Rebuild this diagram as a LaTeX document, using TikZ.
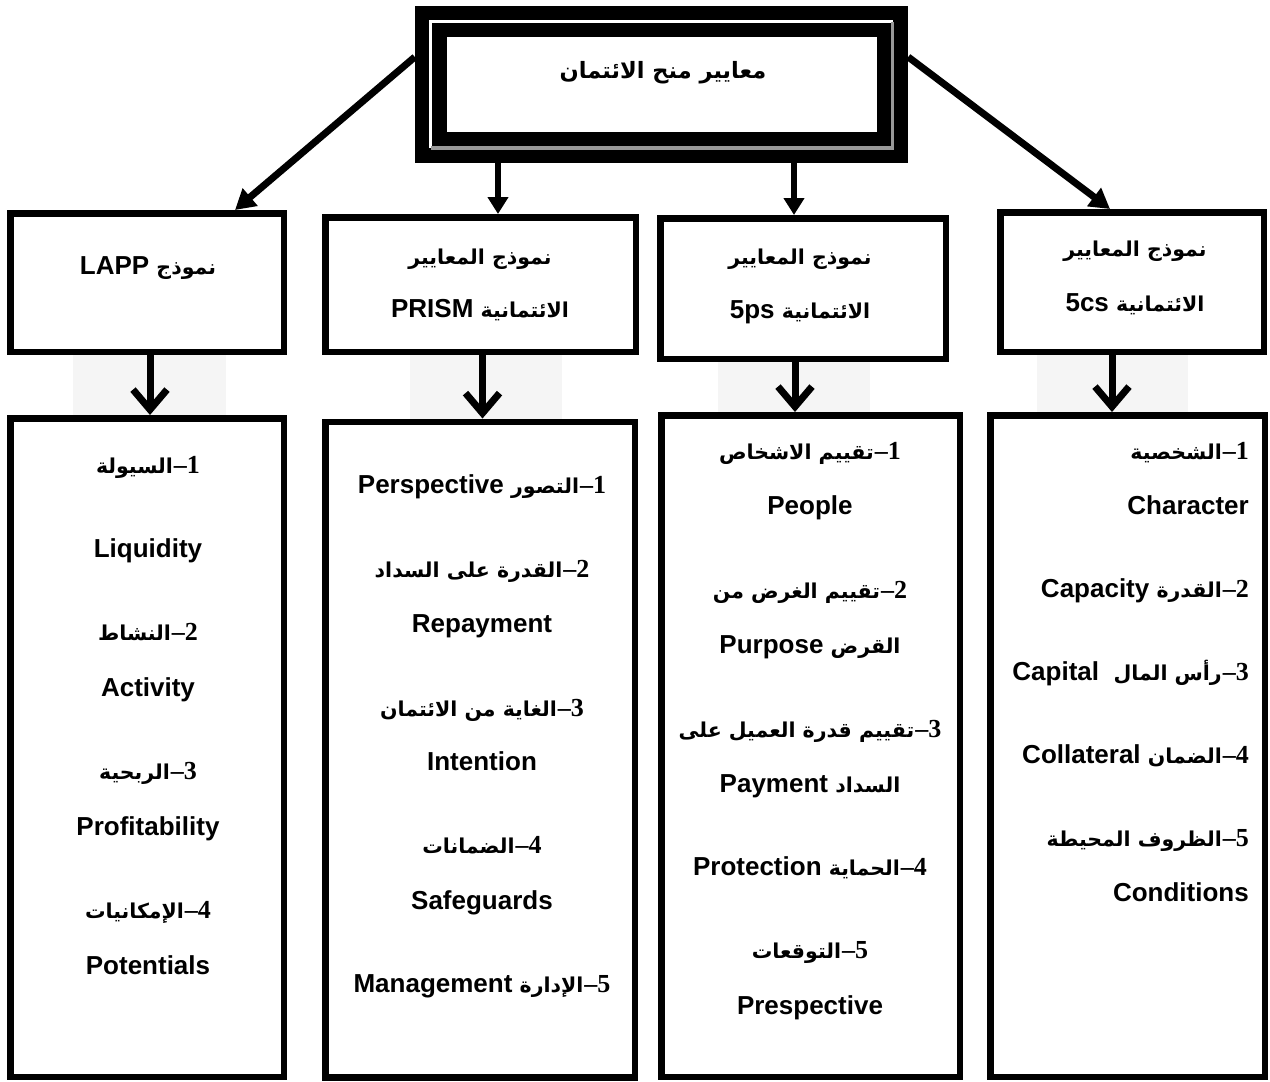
\documentclass[tikz,border=0pt]{standalone}
\usepackage{fontspec}
\setmainfont{Liberation Sans}
\newfontfamily\arabicfont[Script=Arabic]{DejaVu Sans}
\newfontfamily\digitfont{Liberation Serif}
\TeXXeTstate=1
\usetikzlibrary{arrows.meta}

% Arabic run, serif digits, right-to-left line, numbered entry
\newcommand\ARsized[2]{{\arabicfont\bfseries\fontsize{#1}{#1}\selectfont #2}}
\newcommand\AR[1]{\ARsized{20.5}{#1}}
\newcommand\DG[1]{{\digitfont\bfseries\fontsize{26}{30}\selectfont #1}}
\newcommand\RL[1]{\beginR #1\endR}
\newcommand\itm[2]{\RL{\DG{#1}\kern0pt\DG{–}\kern1pt #2}}

\tikzset{
  frame/.style={draw, line width=6.5pt, inner sep=0pt, fill=white},
  txt/.style={inner sep=0pt, text height=18pt, text depth=6pt,
              font=\bfseries\fontsize{26}{30}\selectfont},
  link/.style={line width=7pt, -{Triangle[length=20pt,width=22pt]}},
  drop/.style={line width=5.5pt, -{Triangle[length=17pt,width=20pt]}},
  down/.style={line width=7pt, -{Straight Barb[length=20pt,width=34pt]}},
  patch/.style={fill=black!4, draw=none},
}

\begin{document}
\begin{tikzpicture}[x=1pt, y=-1pt]
\useasboundingbox (0,0) rectangle (1270,1082);

% faint pasted backgrounds behind the short arrows
\fill[patch] (73,307) rectangle (226,420);
\fill[patch] (410,325) rectangle (562,420);
\fill[patch] (718,308) rectangle (870,418);
\fill[patch] (1037,307) rectangle (1188,418);

% title frame: heavy black border with a thin bevel line
\node[fill=black, draw=none, minimum width=493pt, minimum height=157pt, inner sep=0pt]
  (top) at (661.5,84.5) {};
\draw[white, line width=3.5pt] (430.5,148) -- (430.5,21.5) -- (892.5,21.5);
\draw[black!40, line width=3.5pt] (430.5,148) -- (892.5,148) -- (892.5,21.5);
\fill[white] (447,37) rectangle (877,132);
\node[txt] (title) at (663,72) {\RL{\ARsized{22.5}{معايير منح الائتمان}}};

% model boxes
\node[frame, minimum width=273.5pt, minimum height=138.5pt] (A) at (147,282.5) {};
\node[frame, minimum width=310.5pt, minimum height=134.5pt] (B) at (480.5,284.5) {};
\node[frame, minimum width=285.5pt, minimum height=140.5pt] (C) at (803,288.5) {};
\node[frame, minimum width=263.5pt, minimum height=139.5pt] (D) at (1132,282) {};

% criteria boxes
\node[frame, minimum width=273.5pt, minimum height=658.5pt] (A3) at (147,747.5) {};
\node[frame, minimum width=309.5pt, minimum height=655.5pt] (B3) at (480,749.5) {};
\node[frame, minimum width=298.5pt, minimum height=661.5pt] (C3) at (810.5,746) {};
\node[frame, minimum width=274.5pt, minimum height=661.5pt] (D3) at (1127.5,746) {};

% connectors from the title
\coordinate (aIn) at ([xshift=88pt]A.north);
\coordinate (bIn) at ([xshift=17.5pt]B.north);
\coordinate (cIn) at ([xshift=-9pt]C.north);
\coordinate (dIn) at ([xshift=-22pt]D.north);
\draw[link] ([yshift=27.5pt]top.west) -- (aIn);
\draw[link] ([yshift=27.5pt]top.east) -- (dIn);
\draw[drop] (top.south -| bIn) -- (bIn);
\draw[drop] (top.south -| cIn) -- (cIn);

% connectors from each model to its criteria
\coordinate (aOut) at ([xshift=3pt]A.south);
\coordinate (bOut) at ([xshift=2pt]B.south);
\coordinate (cOut) at ([xshift=-8pt]C.south);
\coordinate (dOut) at ([xshift=-20pt]D.south);
\draw[down] (aOut) -- (aOut |- A3.north);
\draw[down] (bOut) -- (bOut |- B3.north);
\draw[down] (cOut) -- (cOut |- C3.north);
\draw[down] (dOut) -- (dOut |- D3.north);

% model titles
\node[txt] (a1) at (148,268) {\RL{\AR{نموذج} LAPP}};
\node[txt] (b1) at (480,258) {\RL{\AR{نموذج المعايير}}};
\node[txt] (b2) at (480,311) {\RL{\AR{الائتمانية} PRISM}};
\node[txt] (c1) at (800,258) {\RL{\AR{نموذج المعايير}}};
\node[txt] (c2) at (800,312) {\RL{\AR{الائتمانية} 5ps}};
\node[txt] (d1) at (1135,250) {\RL{\AR{نموذج المعايير}}};
\node[txt] (d2) at (1135,305) {\RL{\AR{الائتمانية} 5cs}};

% LAPP
\node[txt] (la1) at (148,467) {\itm{1}{\AR{السيولة}}};
\node[txt] (la2) at (148,551) {Liquidity};
\node[txt] (la3) at (148,634) {\itm{2}{\AR{النشاط}}};
\node[txt] (la4) at (148,690) {Activity};
\node[txt] (la5) at (148,773) {\itm{3}{\AR{الربحية}}};
\node[txt] (la6) at (148,829) {Profitability};
\node[txt] (la7) at (148,912) {\itm{4}{\AR{الإمكانيات}}};
\node[txt] (la8) at (148,968) {Potentials};

% PRISM
\node[txt] (pr1) at (482,487) {\itm{1}{\AR{التصور} Perspective}};
\node[txt] (pr2) at (482,571) {\itm{2}{\AR{القدرة على السداد}}};
\node[txt] (pr3) at (482,626) {Repayment};
\node[txt] (pr4) at (482,710) {\itm{3}{\AR{الغاية من الائتمان}}};
\node[txt] (pr5) at (482,764) {Intention};
\node[txt] (pr6) at (482,847) {\itm{4}{\AR{الضمانات}}};
\node[txt] (pr7) at (482,903) {Safeguards};
\node[txt] (pr8) at (482,986) {\itm{5}{\AR{الإدارة} Management}};

% 5ps
\node[txt] (ps1) at (810,453) {\itm{1}{\AR{تقييم الاشخاص}}};
\node[txt] (ps2) at (810,508) {People};
\node[txt] (ps3) at (810,592) {\itm{2}{\AR{تقييم الغرض من}}};
\node[txt] (ps4) at (810,647) {\RL{\AR{القرض} Purpose}};
\node[txt] (ps5) at (810,731) {\itm{3}{\AR{تقييم قدرة العميل على}}};
\node[txt] (ps6) at (810,786) {\RL{\AR{السداد} Payment}};
\node[txt] (ps7) at (810,869) {\itm{4}{\AR{الحماية} Protection}};
\node[txt] (ps8) at (810,952) {\itm{5}{\AR{التوقعات}}};
\node[txt] (ps9) at (810,1008) {Prespective};

% 5cs
\node[txt, anchor=east] (cs1) at (1249,453) {\itm{1}{\AR{الشخصية}}};
\node[txt, anchor=east] (cs2) at (1249,508) {Character};
\node[txt, anchor=east] (cs3) at (1249,591) {\itm{2}{\AR{القدرة} Capacity}};
\node[txt, anchor=east] (cs4) at (1249,674) {\itm{3}{\AR{رأس المال}\ \ Capital}};
\node[txt, anchor=east] (cs5) at (1249,757) {\itm{4}{\AR{الضمان} Collateral}};
\node[txt, anchor=east] (cs6) at (1249,840) {\itm{5}{\AR{الظروف المحيطة}}};
\node[txt, anchor=east] (cs7) at (1249,895) {Conditions};
\end{tikzpicture}
\end{document}
